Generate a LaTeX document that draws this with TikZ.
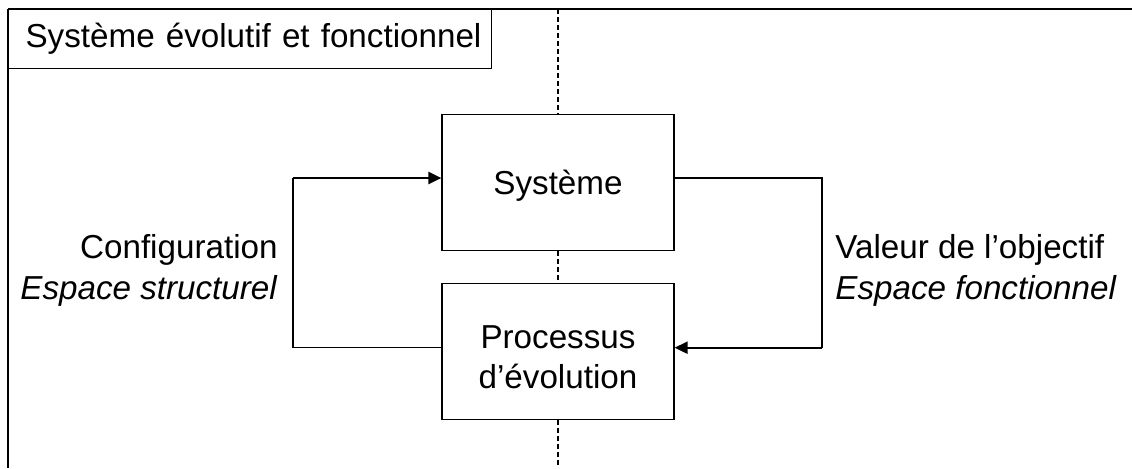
\documentclass[tikz,border=0pt]{standalone}
\usepackage{fontspec}
\setmainfont{Liberation Sans}
\usetikzlibrary{positioning, arrows.meta, calc}

\begin{document}
\begin{tikzpicture}[
    x=0.5pt, y=-0.5pt,
    >={Triangle[length=6.5pt, width=6pt]},
    box/.style={
        draw,
        line width=0.6pt,
        fill=white,
        minimum width=116pt,
        minimum height=68pt,
        inner sep=0pt,
        align=center,
        font=\fontsize{16.6}{20}\selectfont,
    },
    link/.style={line width=0.65pt},
    feed/.style={line width=1.1pt, ->},
    side label/.style={
        font=\fontsize{16.6}{20.5}\selectfont,
        inner sep=0pt,
    },
    axis/.style={line width=1.2pt, dash pattern=on 2.5pt off 1.5pt},
]

\useasboundingbox (0,0) rectangle (1132,468);

% --- Outer frame (top and left edges only) ---
\coordinate (frame nw) at (8,9);
\coordinate (frame ne) at (1132,9);
\coordinate (frame sw) at (8,468);
\draw[line width=1.3pt] (frame ne) -- (frame nw);
\draw[line width=0.7pt] (frame nw) -- (frame sw);

% --- Title tab ---
\node[
    draw,
    line width=0.6pt,
    anchor=north west,
    inner xsep=8.5pt,
    text width=224.5pt,
    minimum height=29.5pt,
    align=left,
    font=\fontsize{16.6}{20}\selectfont,
] (title) at (frame nw) {\mbox{Système évolutif et fonctionnel}};

% --- Central boxes ---
\node[box, text height=15.5pt] (sys) at (558,182.5) {Système};
\node[box, below=16pt of sys] (proc) {\rule{0pt}{17.3pt}Processus\\d’évolution};

% Dashed axis through the boxes
\coordinate (axis top) at (sys.north |- frame nw);
\coordinate (axis bot) at (proc.south |- frame sw);
\draw[axis] (axis top) -- (sys.north);
\draw[axis] (sys.south) -- (proc.north);
\draw[axis] (proc.south) -- (axis bot);

% --- Left loop: configuration ---
\coordinate (cfg top) at ([yshift=2.25pt]sys.west -| 293,0);
\coordinate (cfg bot) at ([yshift=2pt]proc.west -| 293,0);
\draw[link] (proc.west |- cfg bot) -- (cfg bot) -- (cfg top);
\draw[feed] (cfg top) -- (sys.west |- cfg top);

\node[side label, align=right, anchor=east] (cfg)
    at ($(cfg top)!0.5!(cfg bot) + (-15,8)$) {%
    Configuration\\
    \textit{Espace structurel}%
};

% --- Right loop: objective value ---
\coordinate (obj top) at ([yshift=2.25pt]sys.east -| 822,0);
\coordinate (obj bot) at ([yshift=2pt]proc.east -| 822,0);
\draw[link] (sys.east |- obj top) -- (obj top) -- (obj bot);
\draw[feed] (obj bot) -- (proc.east |- obj bot);

\node[side label, align=left, anchor=west] (obj)
    at ($(obj top)!0.5!(obj bot) + (13,8)$) {%
    Valeur de l’objectif\\
    \textit{Espace fonctionnel}%
};

\end{tikzpicture}
\end{document}
